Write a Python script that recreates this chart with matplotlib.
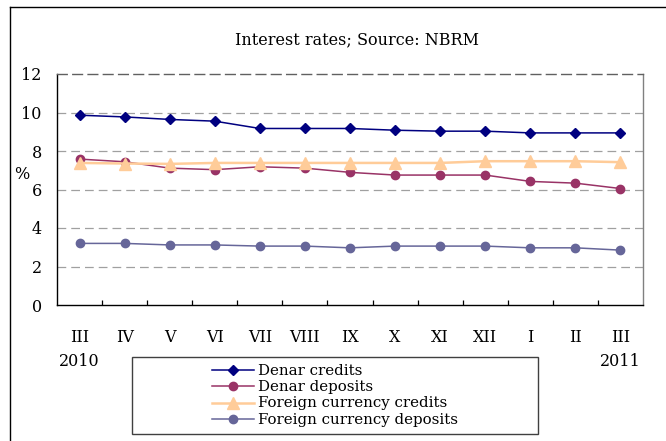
import matplotlib
matplotlib.use("Agg")
import matplotlib.pyplot as plt
from matplotlib.lines import Line2D
from matplotlib.patches import Rectangle
import numpy as np

plt.rcParams["font.family"] = ["DejaVu Serif"]

MONTHS = ["III", "IV", "V", "VI", "VII", "VIII", "IX", "X", "XI", "XII", "I", "II", "III"]
YEAR_FIRST = "2010"
YEAR_LAST = "2011"

denar_credits = [9.86, 9.77, 9.64, 9.55, 9.17, 9.17, 9.17, 9.08, 9.03, 9.03, 8.94, 8.94, 8.94]
denar_deposits = [7.58, 7.44, 7.11, 7.03, 7.18, 7.11, 6.89, 6.75, 6.75, 6.75, 6.42, 6.33, 6.05]
fx_credits = [7.38, 7.35, 7.33, 7.38, 7.38, 7.38, 7.38, 7.38, 7.38, 7.47, 7.47, 7.47, 7.42]
fx_deposits = [3.2, 3.2, 3.12, 3.12, 3.06, 3.06, 2.97, 3.06, 3.06, 3.06, 2.97, 2.97, 2.85]

SERIES = [
    ("Denar credits", denar_credits, "#000080", "D", 5.5, 1.1),
    ("Denar deposits", denar_deposits, "#993366", "o", 6, 1.1),
    ("Foreign currency credits", fx_credits, "#FFCC99", "^", 9, 1.8),
    ("Foreign currency deposits", fx_deposits, "#666699", "o", 6, 1.1),
]

W, H = 666, 441
FS = 11.5

fig = plt.figure(figsize=(W / 100, H / 100), dpi=100)
ax = fig.add_axes([57 / W, 1 - 305 / H, (643 - 57) / W, (305 - 74) / H])

x = np.arange(len(MONTHS))
for label, vals, color, marker, ms, lw in SERIES:
    ax.plot(x, vals, color=color, marker=marker, markersize=ms, linewidth=lw,
            label=label, markeredgecolor=color)

ax.set_xlim(-0.5, len(MONTHS) - 0.5)
ax.set_ylim(0, 12)
ax.set_yticks(range(0, 13, 2))
for yv in range(2, 12, 2):
    ax.axhline(yv, color="#a0a0a0", linewidth=0.9, dashes=(7, 4), zorder=0)

ax.set_xticks(x)
ax.set_xticklabels(MONTHS, fontsize=FS)
ax.set_xticks(np.arange(0.5, len(MONTHS) - 1, 1), minor=True)
ax.tick_params(axis="x", which="major", length=0, pad=17)
ax.tick_params(axis="x", which="minor", direction="in", length=3.6, width=0.9)
ax.tick_params(axis="y", length=0, pad=11, labelsize=FS)

ax.spines["left"].set_color("black")
ax.spines["bottom"].set_color("black")
ax.spines["right"].set_color("#808080")
ax.spines["top"].set_color("#606060")
ax.spines["top"].set_linestyle((0, (7, 4)))
for s in ax.spines.values():
    s.set_linewidth(1.0)

tr = ax.get_xaxis_transform()
ax.text(0, -(362 - 305) / 231, YEAR_FIRST, transform=tr, ha="center", va="center", fontsize=FS)
ax.text(len(MONTHS) - 1, -(362 - 305) / 231, YEAR_LAST, transform=tr, ha="center", va="center", fontsize=FS)

fig.text(22 / W, 1 - 175 / H, "%", ha="center", va="center", fontsize=FS)
fig.text(356.7 / W, 1 - 40 / H, "Interest rates; Source: NBRM", ha="center", va="center", fontsize=FS)

# legend box drawn separately, wider than its content
fig.patches.append(Rectangle((132 / W, 1 - 434 / H), (537.5 - 132) / W, (434 - 357) / H,
                             transform=fig.transFigure, fill=False, edgecolor="#404040", linewidth=1.0))
fig.legend(loc="upper left", bbox_to_anchor=(212 / W, 1 - 364 / H), frameon=False,
           fontsize=10.8, borderpad=0, borderaxespad=0, handlelength=2.8,
           handletextpad=0.3, labelspacing=0.15, handleheight=0.5)

# outer border
fig.add_artist(Line2D([10 / W, 10 / W], [0, 1 - 7 / H], transform=fig.transFigure, color="black", linewidth=1.0))
fig.add_artist(Line2D([10 / W, 1], [1 - 7 / H, 1 - 7 / H], transform=fig.transFigure, color="black", linewidth=1.0))

fig.savefig("out.png", dpi=100)
plt.close(fig)
